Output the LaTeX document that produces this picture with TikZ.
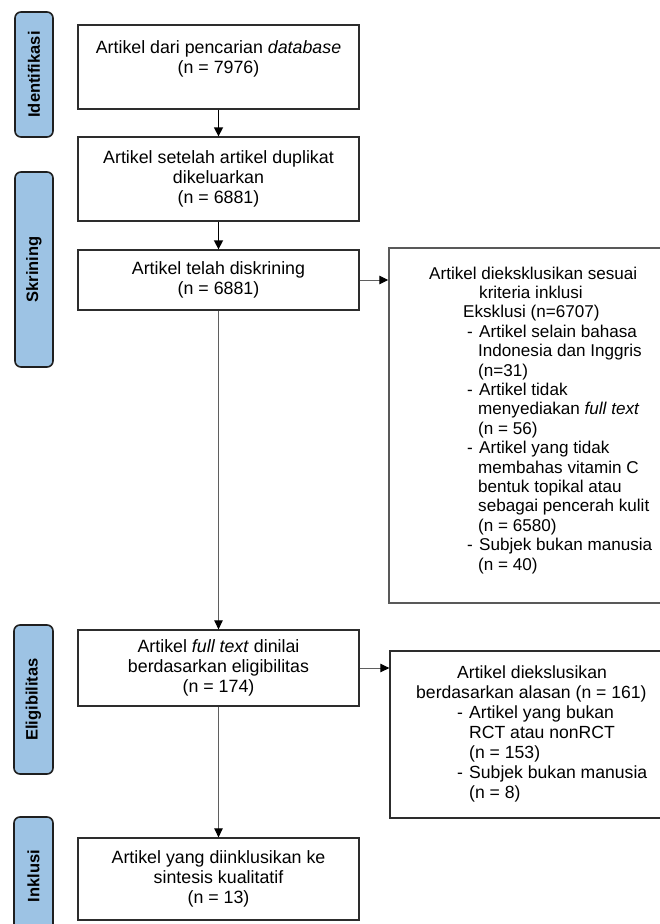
\documentclass[tikz,border=0pt]{standalone}
\usepackage{fontspec}
\setmainfont{Liberation Sans}
\usetikzlibrary{arrows.meta}
\definecolor{lblue}{RGB}{157,195,228}
\definecolor{boxborder}{RGB}{45,45,45}
\definecolor{linegray}{RGB}{95,95,95}
\newcommand\dashitem[1]{\hspace*{#1}\makebox[12pt][l]{-}}
\begin{document}
\begin{tikzpicture}[x=1pt,y=-1pt,
  phase/.style={draw=black!88, line width=1.6pt, fill=lblue, rounded corners=6pt,
    inner sep=0pt, rotate=90, font=\fontsize{16.5}{18}\selectfont\bfseries},
  flowbox/.style={draw=boxborder, line width=1.3pt, fill=white, inner sep=0pt,
    align=center, minimum width=281pt, font=\fontsize{17.8}{20}\selectfont},
  sidebox/.style={draw=black!65, line width=1.5pt, fill=white, inner sep=0pt},
  sidetext/.style={inner sep=0pt, align=left, anchor=north west},
  mainarrow/.style={draw=black, line width=1.5pt, -{Triangle[length=9pt,width=9pt]}},
  thinarrow/.style={draw=linegray, line width=1pt, -{Triangle[length=9pt,width=8.5pt,color=black]}}
]
\fill[white] (0,0) rectangle (660,924);
\useasboundingbox (0,0) rectangle (660,924);

% phase labels
\node[phase, minimum width=125pt, minimum height=38pt] (l1) at (34,74.5) {Identifikasi};
\node[phase, minimum width=195pt, minimum height=38pt] (l2) at (34,269.5) {Skrining};
\node[phase, minimum width=149pt, minimum height=39pt] (l3) at (33.5,699.5) {Eligibilitas};
\node[phase, minimum width=118pt, minimum height=39pt] (l4) at (33.5,876) {Inklusi};

% main boxes
\node[flowbox, minimum height=84pt] (b1) at (218.5,67)
  {Artikel dari pencarian \textit{database}\\(n = 7976)\\\mbox{}};
\node[flowbox, minimum height=84pt] (b2) at (218.5,179)
  {Artikel setelah artikel duplikat\\dikeluarkan\\(n = 6881)};
\node[flowbox, minimum height=60pt] (b3) at (218.5,280)
  {Artikel telah diskrining\\(n = 6881)};
\node[flowbox, minimum height=76pt] (b4) at (218.5,668)
  {Artikel \textit{full text} dinilai\\berdasarkan eligibilitas\\(n = 174)};
\node[flowbox, minimum height=82pt] (b5) at (218.5,879)
  {Artikel yang diinklusikan ke\\sintesis kualitatif\\(n = 13)};

% right boxes
\node[sidebox, minimum width=276pt, minimum height=355pt] (r1) at (527,425.5) {};
\node[sidetext, font=\fontsize{17.1}{19.4}\selectfont] (r1t) at (429,266.5) {%
Artikel dieksklusikan sesuai\\
\hspace*{50pt}kriteria inklusi\\
\hspace*{34pt}Eksklusi (n=6707)\\
\dashitem{38pt}Artikel selain bahasa\\
\hspace*{49pt}Indonesia dan Inggris\\
\hspace*{49pt}(n=31)\\
\dashitem{38pt}Artikel tidak\\
\hspace*{49pt}menyediakan \textit{full text}\\
\hspace*{49pt}(n = 56)\\
\dashitem{38pt}Artikel yang tidak\\
\hspace*{49pt}membahas vitamin C\\
\hspace*{49pt}bentuk topikal atau\\
\hspace*{49pt}sebagai pencerah kulit\\
\hspace*{49pt}(n = 6580)\\
\dashitem{38pt}Subjek bukan manusia\\
\hspace*{49pt}(n = 40)};

\node[draw=boxborder, line width=1.3pt, fill=white, inner sep=0pt,
  minimum width=275pt, minimum height=167pt] (r2) at (527.5,734.5) {};
\node[sidetext, font=\fontsize{17.6}{20}\selectfont] (r2t) at (416,665.5) {%
\hspace*{41pt}Artikel diekslusikan\\
berdasarkan alasan (n = 161)\\
\dashitem{41pt}Artikel yang bukan\\
\hspace*{53pt}RCT atau nonRCT\\
\hspace*{53pt}(n = 153)\\
\dashitem{41pt}Subjek bukan manusia\\
\hspace*{53pt}(n = 8)};

% connectors
\draw[mainarrow] (b1.south) -- (b2.north);
\draw[mainarrow] (b2.south) -- (b3.north);
\draw[thinarrow] (b3.south) -- (b4.north);
\draw[thinarrow] (b4.south) -- (b5.north);
\draw[thinarrow] (b3.east) -- (b3.east -| r1.west);
\draw[thinarrow] (b4.east) -- (b4.east -| r2.west);
\end{tikzpicture}
\end{document}
